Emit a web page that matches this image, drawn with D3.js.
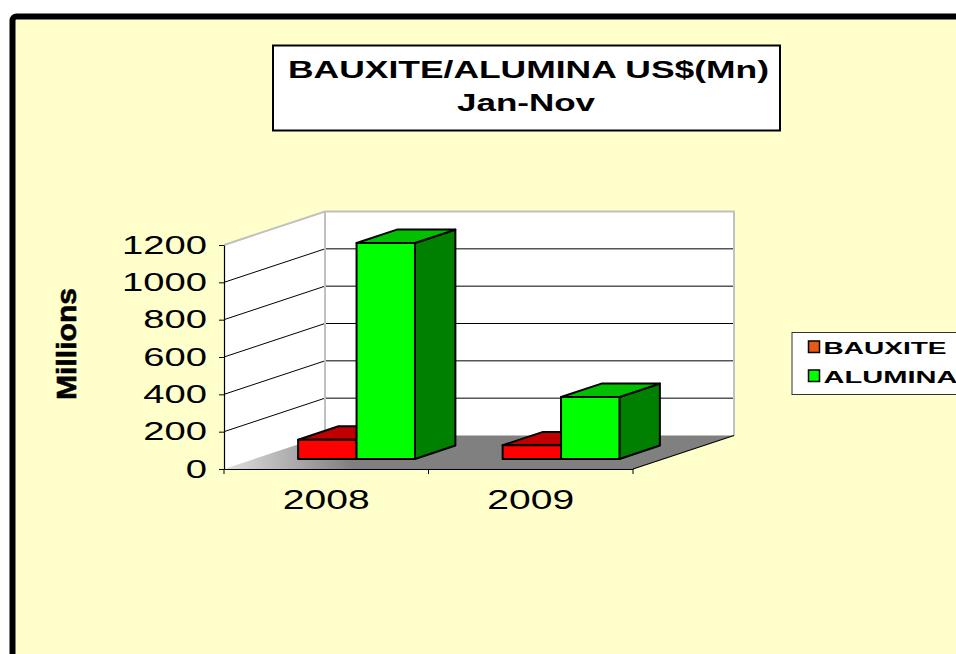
<!DOCTYPE html>
<html>
<head>
<meta charset="utf-8">
<script src="https://cdn.jsdelivr.net/npm/d3@7"></script>
<style>
  body { margin: 0; background: #fff; }
  text { font-family: Arial, "Liberation Sans", sans-serif; }
</style>
</head>
<body>
<script>
    // values (US$ millions)
    let categories = ["2008", "2009"]
    let seriesNames = ["BAUXITE", "ALUMINA"]
    let bauxite = [103, 73]
    let alumina = [1157, 332]
    let yTicks = [0, 200, 400, 600, 800, 1000, 1200]
    let titleLines = ["BAUXITE/ALUMINA US$(Mn)", "Jan-Nov"]

    let width = 956
    let height = 654

    let svg = d3.select("body").append("svg")
        .attr("width", width)
        .attr("height", height)

    svg.append("rect")
        .attr("width", width)
        .attr("height", height)
        .attr("fill", "#fff")

    // chart area frame
    svg.append("rect")
        .attr("x", 12.5)
        .attr("y", 16.5)
        .attr("width", 990)
        .attr("height", 700)
        .attr("rx", 4)
        .attr("fill", "#FFFFCC")
        .attr("stroke", "#000")
        .attr("stroke-width", 6)

    // scales
    let x0 = d3.scaleBand()
        .domain(categories)
        .range([224, 633])
    let x1 = d3.scaleBand()
        .domain(seriesNames)
        .range([0, x0.bandwidth()])
        .paddingInner(0)
        .paddingOuter(0.75)
    let y = d3.scaleLinear()
        .domain([0, 1200])
        .range([469, 245])

    // depth projection of the 3d box
    let depthX = 101
    let depthY = -33.5
    function proj(px, py, f) {
        return [px + f * depthX, py + f * depthY]
    }
    let line = d3.line()

    let x0min = x0.range()[0]
    let x0max = x0.range()[1]
    let yTop = y(1200)
    let yBase = y(0)

    // side wall
    svg.append("path")
        .attr("d", line([proj(x0min, yBase, 0), proj(x0min, yTop, 0), proj(x0min, yTop, 1), proj(x0min, yBase, 1)]) + "Z")
        .attr("fill", "#fff")
    // back wall
    svg.append("path")
        .attr("d", line([proj(x0min, yTop, 1), proj(x0max, yTop, 1), proj(x0max, yBase, 1), proj(x0min, yBase, 1)]) + "Z")
        .attr("fill", "#fff")

    // gridlines on both walls
    let grid = svg.append("g")
    yTicks.filter(t => t > 0 && t < 1200).forEach(t => {
        grid.append("path")
            .attr("d", line([proj(x0min, y(t), 0), proj(x0min, y(t), 1), proj(x0max, y(t), 1)]))
            .attr("fill", "none")
            .attr("stroke", "#000")
            .attr("stroke-width", 1)
    })

    // wall edges
    svg.append("path")
        .attr("d", line([proj(x0min, yTop, 0), proj(x0min, yTop, 1), proj(x0max, yTop, 1), proj(x0max, yBase, 1)]))
        .attr("fill", "none")
        .attr("stroke", "#c0c0c0")
        .attr("stroke-width", 2)
    svg.append("path")
        .attr("d", line([proj(x0min, yTop, 1), proj(x0min, yBase, 1)]))
        .attr("fill", "none")
        .attr("stroke", "#c0c0c0")
        .attr("stroke-width", 2)

    // floor
    let floorGrad = svg.append("defs").append("linearGradient")
        .attr("id", "floorgrad")
        .attr("x1", "0").attr("x2", "0.25")
        .attr("y1", "0").attr("y2", "0")
    floorGrad.append("stop").attr("offset", "0").attr("stop-color", "#e0e0e0")
    floorGrad.append("stop").attr("offset", "1").attr("stop-color", "#808080")
    svg.append("path")
        .attr("d", line([proj(x0min, yBase, 0), proj(x0max, yBase, 0), proj(x0max, yBase, 1), proj(x0min, yBase, 1)]) + "Z")
        .attr("fill", "url(#floorgrad)")
    svg.append("path")
        .attr("d", line([proj(x0max, yBase, 0), proj(x0max, yBase, 1)]))
        .attr("stroke", "#000")
        .attr("stroke-width", 1.2)

    // bars
    let colors = {
        BAUXITE: { front: "#FF0000", top: "#C00000", side: "#800000" },
        ALUMINA: { front: "#00FF00", top: "#00C000", side: "#008000" }
    }
    let f0 = 0.3
    let f1 = 0.7
    let rows = categories.map((c, i) => ({
        cat: c,
        values: [
            { s: "BAUXITE", v: bauxite[i] },
            { s: "ALUMINA", v: alumina[i] }
        ]
    }))

    let barG = svg.append("g")
        .attr("stroke", "#000")
        .attr("stroke-width", 2)
        .attr("stroke-linejoin", "round")
    rows.forEach(r => {
        r.values.forEach(d => {
            let xl = x0(r.cat) + x1(d.s)
            let xr = xl + x1.bandwidth()
            let yt = y(d.v)
            let yb = y(0)
            let c = colors[d.s]
            barG.append("path")
                .attr("d", line([proj(xr, yt, f0), proj(xr, yt, f1), proj(xr, yb, f1), proj(xr, yb, f0)]) + "Z")
                .attr("fill", c.side)
            barG.append("path")
                .attr("d", line([proj(xl, yt, f0), proj(xr, yt, f0), proj(xr, yt, f1), proj(xl, yt, f1)]) + "Z")
                .attr("fill", c.top)
            barG.append("path")
                .attr("d", line([proj(xl, yt, f0), proj(xr, yt, f0), proj(xr, yb, f0), proj(xl, yb, f0)]) + "Z")
                .attr("fill", c.front)
        })
    })

    // y axis
    let yLabelStretch = 1.47
    let yAxis = svg.append("g")
        .attr("transform", "translate(" + x0min + ",0)")
        .call(d3.axisLeft(y).tickValues(yTicks).tickFormat(d3.format("d")).tickSize(5).tickSizeOuter(0))
    yAxis.select(".domain").attr("stroke", "#000").attr("stroke-width", 1.2)
    yAxis.selectAll(".tick line").attr("stroke", "#000")
    yAxis.selectAll(".tick text")
        .attr("font-family", "Arial, 'Liberation Sans', sans-serif")
        .attr("font-size", 26)
        .attr("fill", "#000")
        .attr("x", -17 / yLabelStretch)
        .attr("transform", "scale(" + yLabelStretch + ",1)")

    // x axis
    let xLabelStretch = 1.37
    let xAxis = svg.append("g")
        .attr("transform", "translate(0," + yBase + ")")
        .call(d3.axisBottom(x0).tickSize(0).tickPadding(20))
    xAxis.select(".domain").attr("stroke", "#000").attr("stroke-width", 1.2)
    xAxis.selectAll(".tick text")
        .attr("font-family", "Arial, 'Liberation Sans', sans-serif")
        .attr("font-size", 28.5)
        .attr("fill", "#000")
        .attr("transform", "scale(" + xLabelStretch + ",1)")
    let edges = categories.map(c => x0(c)).concat([x0max])
    xAxis.selectAll(".edge")
        .data(edges)
        .enter()
        .append("line")
        .attr("x1", d => d)
        .attr("x2", d => d)
        .attr("y1", 0)
        .attr("y2", 5)
        .attr("stroke", "#000")

    // y axis title
    svg.append("text")
        .attr("transform", "translate(76,344) rotate(-90)")
        .attr("text-anchor", "middle")
        .attr("font-weight", "bold")
        .attr("font-size", 27)
        .attr("textLength", 112)
        .attr("lengthAdjust", "spacingAndGlyphs")
        .attr("stroke", "#000")
        .attr("stroke-width", 0.6)
        .text("Millions")

    // title box
    svg.append("rect")
        .attr("x", 273)
        .attr("y", 45.5)
        .attr("width", 507)
        .attr("height", 85)
        .attr("fill", "#fff")
        .attr("stroke", "#000")
        .attr("stroke-width", 2)
    svg.append("text")
        .attr("x", 528.5)
        .attr("y", 77.7)
        .attr("text-anchor", "middle")
        .attr("font-weight", "bold")
        .attr("font-size", 24.5)
        .attr("textLength", 481)
        .attr("lengthAdjust", "spacingAndGlyphs")
        .text(titleLines[0])
    svg.append("text")
        .attr("x", 526)
        .attr("y", 111)
        .attr("text-anchor", "middle")
        .attr("font-weight", "bold")
        .attr("font-size", 24.5)
        .attr("textLength", 138)
        .attr("lengthAdjust", "spacingAndGlyphs")
        .text(titleLines[1])

    // legend
    let legend = svg.append("g")
    legend.append("rect")
        .attr("x", 792)
        .attr("y", 332.5)
        .attr("width", 200)
        .attr("height", 62)
        .attr("fill", "#fff")
        .attr("stroke", "#333")
        .attr("stroke-width", 1)
    let legendSwatch = ["#E65A14", "#00FF00"]
    let legendWidth = [123, 134]
    seriesNames.forEach((s, i) => {
        let ly = 341 + i * 29
        legend.append("rect")
            .attr("x", 808.5)
            .attr("y", ly)
            .attr("width", 11)
            .attr("height", 11.5)
            .attr("fill", legendSwatch[i])
            .attr("stroke", "#000")
            .attr("stroke-width", 1.5)
        legend.append("text")
            .attr("x", 823.5)
            .attr("y", ly + 12.5)
            .attr("font-weight", "bold")
            .attr("font-size", 17)
            .attr("textLength", legendWidth[i])
            .attr("lengthAdjust", "spacingAndGlyphs")
            .text(s)
    })
</script>
</body>
</html>
